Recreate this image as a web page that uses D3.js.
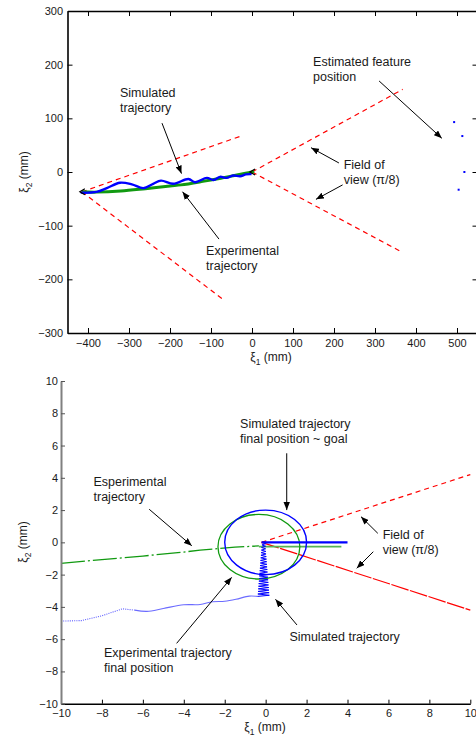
<!DOCTYPE html>
<html><head><meta charset="utf-8">
<script src="https://cdn.jsdelivr.net/npm/d3@7"></script>
<style>
body{margin:0;background:#fff}
svg{display:block}
text{font-family:"Liberation Sans",Arial,Helvetica,sans-serif;fill:#1a1a1a}
</style>
</head><body>
<svg id="c" width="476" height="737"></svg>
<script>
// ---------------- DATA ----------------
const topXTicks = [-400,-300,-200,-100,0,100,200,300,400,500];
const topYTicks = [-300,-200,-100,0,100,200,300];
const botXTicks = [-10,-8,-6,-4,-2,0,2,4,6,8,10];
const botYTicks = [-10,-8,-6,-4,-2,0,2,4,6,8,10];

// top panel (mm)
const topExperimental = [[-415,-37],[-380,-37.5],[-320,-35.5],[-260,-31],[-200,-26],[-173,-24],[-120,-17.5],[-76,-11.5],[-40,-6],[0,0],[5,1.5]];
const topSimulated = [[-418,-38.5],[-379,-37],[-354,-30],[-322,-20],[-293,-23],[-265,-30],[-241,-22],[-222,-16],[-192,-22],[-155,-13],[-139,-19],[-110,-11],[-94,-15],[-78,-9],[-62,-11],[-46,-6.5],[-29,-8],[-15,-4.5],[-1,-4]];
const topFeatures = [[493,93],[513,67],[518,0],[504,-33]];
const topFovStartOrigin = [-415,-37];
const topFovStartEnds = [[-27,67],[-71.5,-237]];
const topFovEndOrigin = [0,0];
const topFovEndEnds = [[367.5,154],[367.5,-150]];
const topPoses = [[-415,-37],[0,0]];

// bottom panel (mm)
const botExperimental = [[-10,-1.3],[-8,-1.07],[-6,-0.85],[-4,-0.6],[-3.2,-0.48],[-1.5,-0.3],[-0.33,-0.22]];
const botExpHeading = [[-0.33,-0.27],[3.7,-0.27]];
const botExpCircle = [-0.33,-0.27,2];
const botSimDotted = [[-10,-4.88],[-9,-4.85],[-8,-4.55],[-7,-4.12],[-6.4,-4.2]];
const botSimSolid = [[-6.4,-4.2],[-5.8,-4.28],[-5,-4.1],[-4,-3.87],[-3.2,-3.85],[-2.6,-3.68],[-2,-3.65],[-1.45,-3.53],[-0.8,-3.33],[-0.4,-3.35]];
const botSimZigzag = [[-0.40,-3.35],[0.18,-3.28],[-0.38,-3.20],[0.17,-3.12],[-0.37,-3.04],[0.16,-2.96],[-0.36,-2.88],[0.15,-2.80],[-0.35,-2.72],[0.14,-2.64],[-0.34,-2.56],[0.13,-2.48],[-0.33,-2.40],[0.12,-2.32],[-0.32,-2.24],[0.11,-2.16],[-0.31,-2.08],[0.10,-2.00],[-0.30,-1.92],[0.09,-1.84],[-0.29,-1.76],[0.08,-1.68],[-0.28,-1.60],[0.07,-1.52],[-0.27,-1.44],[0.06,-1.36],[-0.26,-1.28],[0.05,-1.20],[-0.25,-1.12],[0.04,-1.04],[-0.24,-0.96],[0.03,-0.88],[-0.23,-0.80],[0.02,-0.72],[-0.22,-0.64],[0.01,-0.56],[-0.21,-0.48],[0.00,-0.40],[-0.20,-0.32],[0.00,-0.24],[-0.18,-0.16],[0.00,-0.08],[-0.15,0],[0,0]];
const botSimHeading = [[-0.2,0],[4,0]];
const botSimCircle = [0,0,2];
const botFovOrigin = [-0.2,0];
const botFovEnds = [[10,4.2],[10,-4.2]];

// annotations (anchor points in data units)
const topNotes = [
  {lines:["Simulated","trajectory"], at:[-322,140], arrows:[[[-219.5,91],[-172,-3]]]},
  {lines:["Experimental","trajectory"], at:[-112,-155], arrows:[[[-80.5,-125],[-169.5,-36.7]]]},
  {lines:["Estimated feature","position"], at:[149,197.5], arrows:[[[310,169.6],[463,62.8]]]},
  {lines:["Field of","view (π/8)"], at:[223.7,5.6], arrows:[[[212,16.8],[144,45.3]],[[221,-24],[156,-51]]]}
];
const botNotes = [
  {lines:["Esperimental","trajectory"], at:[-8.41,3.49], arrows:[[[-5.69,2.05],[-3.61,-0.21]]]},
  {lines:["Simulated trajectory","final position ~ goal"], at:[-1.25,7.07], arrows:[[[1.03,5.52],[1.03,2.0]]]},
  {lines:["Field of","view (π/8)"], at:[5.72,0.19], arrows:[[[5.48,0.56],[4.66,1.59]],[[5.26,-0.58],[4.45,-1.61]]]},
  {lines:["Simulated trajectory"], at:[1.16,-6.1], arrows:[[[1.53,-5.12],[0.48,-3.53]]]},
  {lines:["Experimental trajectory","final position"], at:[-7.9,-7.12], arrows:[[[-4.35,-6.26],[-1.66,-2.17]]]}
];

// ---------------- DRAW ----------------
const svg = d3.select("#c");
const RED="#ff0000", BLUE="#0000ff", GREEN="#119a11";

const defs = svg.append("defs");
defs.append("marker").attr("id","ah").attr("viewBox","0 0 10 8")
  .attr("refX",10).attr("refY",4).attr("markerWidth",8).attr("markerHeight",6.5)
  .attr("markerUnits","userSpaceOnUse").attr("orient","auto")
  .append("path").attr("d","M0,0 L10,4 L0,8 Z").attr("fill","#000");

function notes(g, xs, ys, list){
  list.forEach(n=>{
    const t = g.append("text").attr("x",xs(n.at[0])).attr("y",ys(n.at[1])).attr("font-size",12.5);
    n.lines.forEach((l,i)=>t.append("tspan").attr("x",xs(n.at[0])).attr("dy",i?15:0).text(l));
    n.arrows.forEach(a=>{
      g.append("line").attr("x1",xs(a[0][0])).attr("y1",ys(a[0][1]))
        .attr("x2",xs(a[1][0])).attr("y2",ys(a[1][1]))
        .attr("stroke","#000").attr("stroke-width",1).attr("marker-end","url(#ah)");
    });
  });
}
function styleAxis(g, color, w){
  g.select(".domain").attr("stroke",color).attr("stroke-width",w);
  g.selectAll(".tick line").attr("stroke",color).attr("stroke-width",1);
  g.selectAll(".tick text").attr("font-size",11).attr("fill","#1a1a1a")
    .attr("font-family","'Liberation Sans',Arial,sans-serif");
}
function axisLabel(g, x, y, rot, sub){
  const t = g.append("text").attr("transform",`translate(${x},${y}) rotate(${rot})`)
    .attr("text-anchor","middle").attr("font-size",12);
  t.append("tspan").text("ξ");
  t.append("tspan").attr("dy",3.5).attr("font-size",8.5).text(sub);
  t.append("tspan").attr("dy",-3.5).text(" (mm)");
}

// ===== TOP PANEL =====
const xT = d3.scaleLinear([-450,550],[67.5,477.5]);
const yT = d3.scaleLinear([-300,300],[333,11]);
const gT = svg.append("g");
defs.append("clipPath").attr("id","clipT").append("rect")
  .attr("x",67.5).attr("y",11).attr("width",410).attr("height",322);
const pT = gT.append("g").attr("clip-path","url(#clipT)");
const lineT = d3.line().x(d=>xT(d[0])).y(d=>yT(d[1]));
const curveT = d3.line().curve(d3.curveCatmullRom).x(d=>xT(d[0])).y(d=>yT(d[1]));

// FOV lines
[[topFovStartOrigin, topFovStartEnds],[topFovEndOrigin, topFovEndEnds]].forEach(([o,ends])=>{
  ends.forEach(e=>pT.append("path").attr("d",lineT([o,e])).attr("fill","none")
    .attr("stroke",RED).attr("stroke-width",1.2).attr("stroke-dasharray","5,4"));
});
pT.append("path").attr("d",curveT(topExperimental))
  .attr("fill","none").attr("stroke",GREEN).attr("stroke-width",3);
pT.append("path").attr("d",curveT(topSimulated))
  .attr("fill","none").attr("stroke",BLUE).attr("stroke-width",2.4);
pT.selectAll(".pose").data(topPoses).enter().append("path")
  .attr("d",d=>`M${xT(d[0])+3},${yT(d[1])-3}L${xT(d[0])-2},${yT(d[1])}L${xT(d[0])+3},${yT(d[1])+3}`)
  .attr("fill","none").attr("stroke","#000").attr("stroke-width",1.2);
pT.selectAll(".feat").data(topFeatures).enter().append("rect")
  .attr("x",d=>xT(d[0])-1).attr("y",d=>yT(d[1])-1).attr("width",2).attr("height",2).attr("fill",BLUE);

// axes
const axB = gT.append("g").attr("transform","translate(0,333)")
  .call(d3.axisBottom(xT).tickValues(topXTicks).tickSizeInner(-5).tickSizeOuter(0).tickPadding(6));
styleAxis(axB,"#000",1.6);
const axTp = gT.append("g").attr("transform","translate(0,11)")
  .call(d3.axisTop(xT).tickValues(topXTicks).tickSizeInner(-5).tickSizeOuter(0).tickFormat(""));
styleAxis(axTp,"#000",1.6);
const axL = gT.append("g").attr("transform","translate(67.5,0)")
  .call(d3.axisLeft(yT).tickValues(topYTicks).tickSizeInner(-5).tickSizeOuter(0).tickPadding(4.5));
styleAxis(axL,"#000",1.6);
const axR = gT.append("g").attr("transform","translate(477.5,0)")
  .call(d3.axisRight(yT).tickValues(topYTicks).tickSizeInner(-5).tickSizeOuter(0).tickFormat(""));
styleAxis(axR,"#000",1.6);
axisLabel(gT, 28, 172, -90, "2");
axisLabel(gT, 271, 361, 0, "1");
notes(gT, xT, yT, topNotes);

// ===== BOTTOM PANEL =====
const xB = d3.scaleLinear([-10,10],[61,470.3]);
const yB = d3.scaleLinear([-10,10],[703.7,381]);
const gB = svg.append("g");
const lineB = d3.line().x(d=>xB(d[0])).y(d=>yB(d[1]));

// FOV
gB.append("path").attr("d",lineB([botFovOrigin, botFovEnds[0]])).attr("fill","none")
  .attr("stroke",RED).attr("stroke-width",1.2).attr("stroke-dasharray","5,4");
gB.append("path").attr("d",lineB([botFovOrigin, botFovEnds[1]])).attr("fill","none")
  .attr("stroke",RED).attr("stroke-width",1.2).attr("stroke-dasharray","18,1.5");

// experimental (green)
gB.append("path").attr("d",lineB(botExperimental)).attr("fill","none")
  .attr("stroke",GREEN).attr("stroke-width",1.3).attr("stroke-dasharray","24,3,2,3");
gB.append("path").attr("d",lineB(botExpHeading)).attr("fill","none")
  .attr("stroke","#55b455").attr("stroke-width",1.8);
gB.append("ellipse").attr("cx",xB(botExpCircle[0])).attr("cy",yB(botExpCircle[1]))
  .attr("rx",xB(botExpCircle[2])-xB(0)).attr("ry",yB(0)-yB(botExpCircle[2]))
  .attr("fill","none").attr("stroke",GREEN).attr("stroke-width",1.3);

// simulated (blue)
gB.append("path").attr("d",lineB(botSimDotted)).attr("fill","none")
  .attr("stroke","#5a5aff").attr("stroke-width",1.1).attr("stroke-dasharray","1,1.2");
gB.append("path").attr("d",d3.line().curve(d3.curveCatmullRom).x(d=>xB(d[0])).y(d=>yB(d[1]))(botSimSolid))
  .attr("fill","none").attr("stroke","#6b6bff").attr("stroke-width",1.1);
gB.append("path").attr("d",lineB(botSimZigzag)).attr("fill","none")
  .attr("stroke",BLUE).attr("stroke-width",1);
gB.append("path").attr("d",lineB(botSimHeading)).attr("fill","none")
  .attr("stroke",BLUE).attr("stroke-width",2.2);
gB.append("ellipse").attr("cx",xB(botSimCircle[0])).attr("cy",yB(botSimCircle[1]))
  .attr("rx",xB(botSimCircle[2])-xB(0)).attr("ry",yB(0)-yB(botSimCircle[2]))
  .attr("fill","none").attr("stroke",BLUE).attr("stroke-width",1.4);

// axes
const bxB = gB.append("g").attr("transform","translate(0,703.7)")
  .call(d3.axisBottom(xB).tickValues(botXTicks).tickSizeInner(-4).tickSizeOuter(0).tickPadding(5.5));
styleAxis(bxB,"#000",1.5);
const byL = gB.append("g").attr("transform","translate(61,0)")
  .call(d3.axisLeft(yB).tickValues(botYTicks).tickSizeInner(-4).tickSizeOuter(0).tickPadding(3));
styleAxis(byL,"#808080",2);
byL.selectAll(".tick line").attr("stroke","#555");
axisLabel(gB, 27, 542, -90, "2");
axisLabel(gB, 265, 731, 0, "1");
notes(gB, xB, yB, botNotes);
</script>
</body></html>
